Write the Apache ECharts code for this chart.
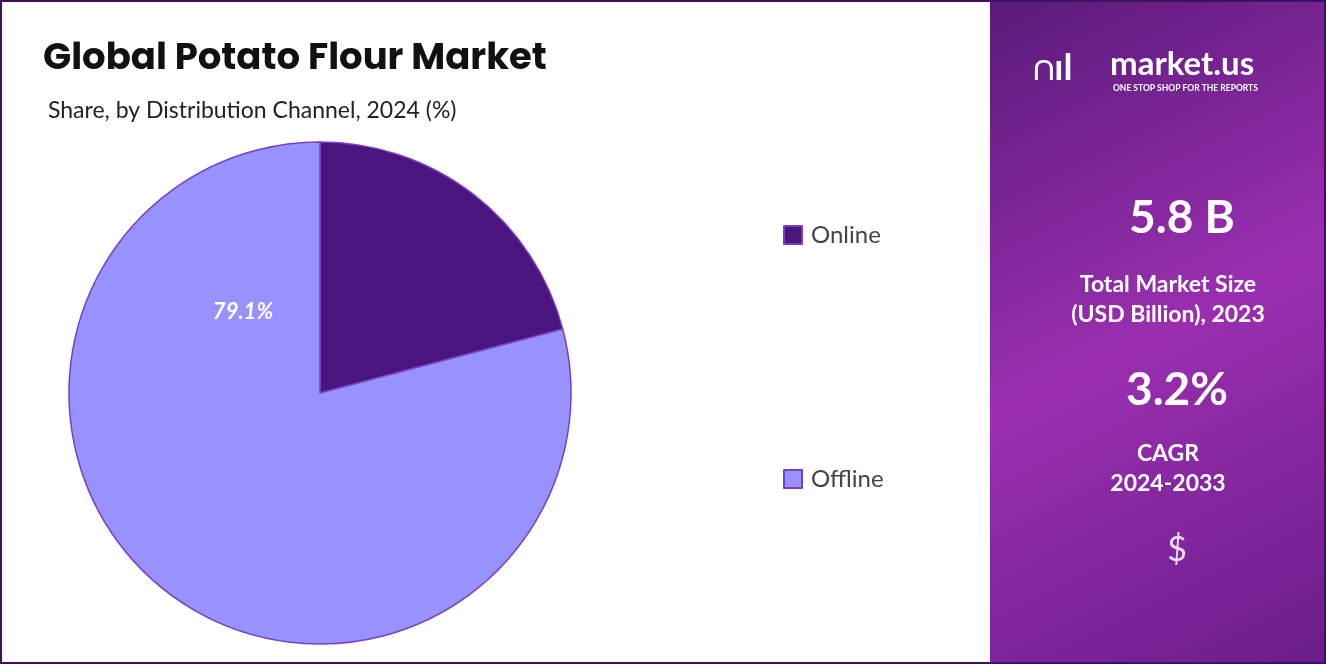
<!DOCTYPE html>
<html><head><meta charset="utf-8">
<script src="https://cdn.jsdelivr.net/npm/echarts@6/dist/echarts.min.js"></script>
<style>html,body{margin:0;padding:0;background:#fff}#c{width:1326px;height:664px}</style>
</head><body><div id="c"></div>
<script>
var channels = ['Online', 'Offline'];
var shares = [20.9, 79.1];
var colors = ['#4b1580', '#9892fe'];

var chart = echarts.init(document.getElementById('c'));
chart.setOption({
  animation: false,
  title: [{
    text: 'Global Potato Flour Market', left: 38, top: 36,
    textStyle: { fontFamily: 'Poppins, Lato, sans-serif', fontSize: 37, fontWeight: 'bold', color: '#111' }
  }, {
    text: 'Share, by Distribution Channel, 2024 (%)', left: 43, top: 94,
    textStyle: { fontFamily: 'Lato, sans-serif', fontSize: 23, fontWeight: 'normal', color: '#222' }
  }],
  legend: {
    orient: 'vertical', left: 778, top: 218, itemGap: 220,
    itemWidth: 18, itemHeight: 18, icon: 'rect',
    data: channels,
    textStyle: { fontFamily: 'Lato, sans-serif', fontSize: 24, color: '#444', padding: [0, 0, 0, 4] }
  },
  graphic: [
    { type: 'rect', shape: { x: 1, y: 1, width: 1324, height: 662 }, style: { fill: 'none', stroke: '#3d1060', lineWidth: 2 }, z: 10 },
    { type: 'rect', shape: { x: 990, y: 0, width: 336, height: 664 },
      style: { fill: new echarts.graphic.LinearGradient(0, 0, 1, 1, [
        { offset: 0, color: '#5a1a7a' }, { offset: 0.5, color: '#9a2fb0' }, { offset: 1, color: '#6a1d8a' }]) } },
    { type: 'text', left: 1033, top: 50, style: { text: '\u2229\u0131l', fill: '#fff', font: 'bold 36px Lato, sans-serif' } },
    { type: 'text', left: 1110, top: 48, style: { text: 'market.us', fill: '#fff', font: 'bold 33px Lato, sans-serif' } },
    { type: 'text', left: 1113, top: 84, style: { text: 'ONE STOP SHOP FOR THE REPORTS', fill: '#fff', font: 'bold 8.5px Lato, sans-serif' } },
    { type: 'text', x: 1182, y: 218, style: { text: '5.8 B', fill: '#fff', font: 'bold 46px Lato, sans-serif', align: 'center', verticalAlign: 'middle' } },
    { type: 'text', x: 1168, y: 300, style: { text: 'Total Market Size\n(USD Billion), 2023', fill: '#fff', font: 'bold 23px Lato, sans-serif', align: 'center', verticalAlign: 'middle', lineHeight: 30 } },
    { type: 'text', x: 1177, y: 390, style: { text: '3.2%', fill: '#fff', font: 'bold 46px Lato, sans-serif', align: 'center', verticalAlign: 'middle' } },
    { type: 'text', x: 1168, y: 469, style: { text: 'CAGR\n2024-2033', fill: '#fff', font: 'bold 23px Lato, sans-serif', align: 'center', verticalAlign: 'middle', lineHeight: 30 } },
    { type: 'text', x: 1177, y: 550, style: { text: '$', fill: 'rgba(255,255,255,0.85)', font: '34px Lato, sans-serif', align: 'center', verticalAlign: 'middle' } },
    { type: 'text', x: 243, y: 312, z: 100, style: { text: '79.1%', fill: '#fff', font: 'italic bold 22px Lato, sans-serif', align: 'center', verticalAlign: 'middle' } }
  ],
  series: [{
    type: 'pie', center: [320, 393], radius: 251, startAngle: 90, clockwise: true, z: 1,
    label: { show: false }, labelLine: { show: false },
    itemStyle: { borderColor: '#7a3fc0', borderWidth: 1.5 },
    data: channels.map(function (n, i) { return { name: n, value: shares[i], itemStyle: { color: colors[i] } }; })
  }],
  color: colors
});
</script></body></html>
